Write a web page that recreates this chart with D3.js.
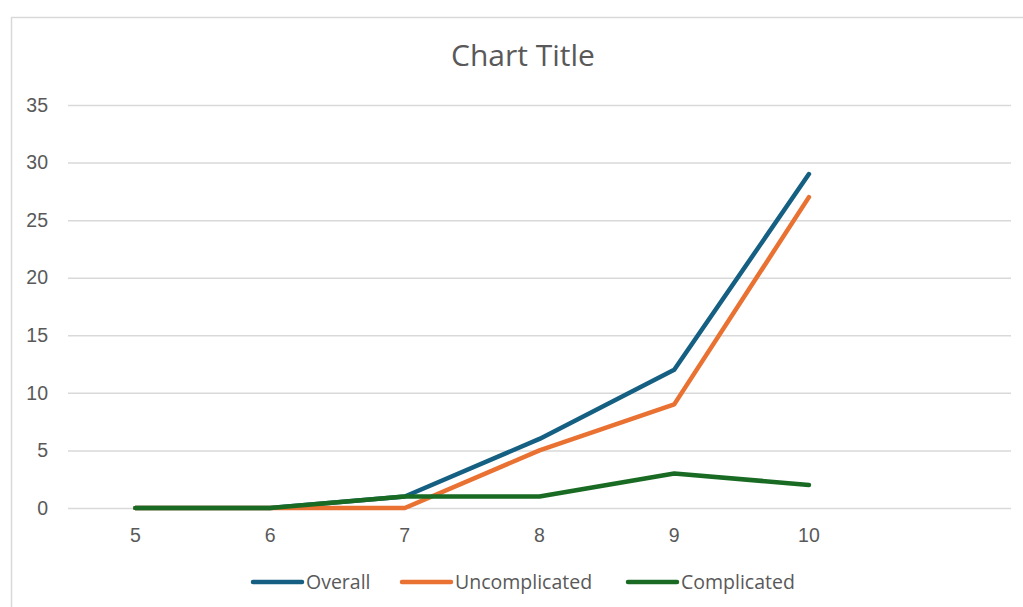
<!DOCTYPE html>
<html><head><meta charset="utf-8">
<script src="https://cdn.jsdelivr.net/npm/d3@7"></script>
<style>
html,body{margin:0;padding:0;background:#fff;}
svg{display:block;font-family:"Open Sans","Noto Sans",sans-serif;}
</style></head>
<body>
<script>
const categories = ["5","6","7","8","9","10",""];
const overall = [0,0,1,6,12,29];
const uncomplicated = [0,0,0,5,9,27];
const complicated = [0,0,1,1,3,2];
const yTicks = [0,5,10,15,20,25,30,35];
const seriesNames = ["Overall","Uncomplicated","Complicated"];
const seriesColors = ["#156082","#E97132","#196B24"];

(function(){
const W = 1023, H = 607;
const svg = d3.select("body").append("svg").attr("width",W).attr("height",H);

svg.append("rect").attr("x",11.5).attr("y",17.5).attr("width",1030).attr("height",620)
  .attr("fill","#fff").attr("stroke","#d9d9d9").attr("stroke-width",1.5);

const pl = 68, pr = 1011, pt = 105, pb = 508;
const x = d3.scaleBand().domain(categories.map((c,i)=>i)).range([pl,pr]);
const y = d3.scaleLinear().domain([0,35]).range([pb,pt]);

svg.append("text").attr("x",523).attr("y",66).attr("text-anchor","middle")
  .attr("font-size",30).attr("fill","#595959").text("Chart Title");

const yAxis = svg.append("g").attr("transform",`translate(${pl},0)`)
  .call(d3.axisLeft(y).tickValues(yTicks).tickSize(-(pr-pl)).tickPadding(20));
yAxis.select(".domain").remove();
yAxis.selectAll("line").attr("stroke","#d9d9d9").attr("stroke-width",1.5);
yAxis.selectAll("text").attr("fill","#595959").attr("font-size",19.5).attr("font-family",null);

const xAxis = svg.append("g").attr("transform",`translate(0,${pb})`)
  .call(d3.axisBottom(x).tickFormat(i=>categories[i]).tickSize(0).tickPadding(20));
xAxis.select(".domain").remove();
xAxis.selectAll("text").attr("fill","#595959").attr("font-size",19.5).attr("font-family",null);

const data = [overall, uncomplicated, complicated];
const line = d3.line().x((d,i)=>x(i)+x.bandwidth()/2).y(d=>y(d));
data.forEach((s,k)=>{
  svg.append("path").attr("d",line(s)).attr("fill","none")
    .attr("stroke",seriesColors[k]).attr("stroke-width",4.5)
    .attr("stroke-linecap","round").attr("stroke-linejoin","round");
});

const legendX = [253,402,628];
const ly = 582;
seriesNames.forEach((n,k)=>{
  const g = svg.append("g");
  g.append("line").attr("x1",legendX[k]).attr("x2",legendX[k]+49).attr("y1",ly).attr("y2",ly)
    .attr("stroke",seriesColors[k]).attr("stroke-width",4.5).attr("stroke-linecap","round");
  g.append("text").attr("x",legendX[k]+53).attr("y",ly).attr("dy","0.35em")
    .attr("font-size",19.5).attr("fill","#595959").text(n);
});
})();
</script>
</body></html>
